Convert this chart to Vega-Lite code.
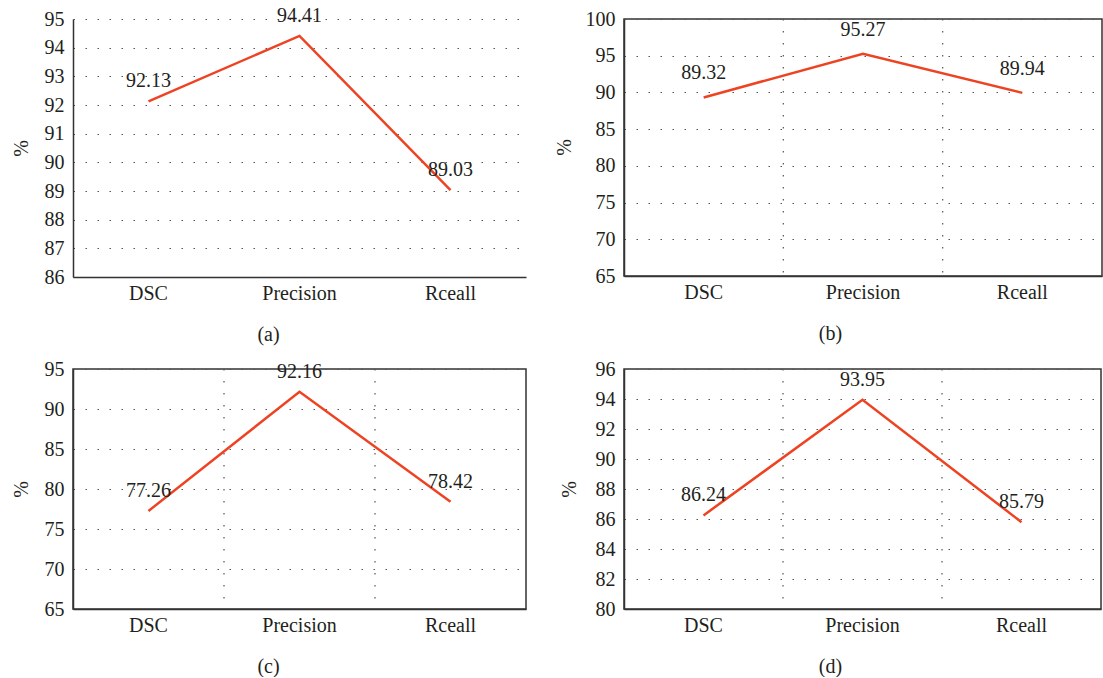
{
  "$schema": "https://vega.github.io/schema/vega-lite/v6.json",
  "padding": {"left": 10, "top": 5, "right": 0, "bottom": 0},
  "background": "white",
  "columns": 2,
  "bounds": "flush",
  "spacing": {"row": 92, "column": 98},
  "datasets": {
    "a": [{"m": "DSC", "v": 92.13}, {"m": "Precision", "v": 94.41}, {"m": "Rceall", "v": 89.03}],
    "b": [{"m": "DSC", "v": 89.32}, {"m": "Precision", "v": 95.27}, {"m": "Rceall", "v": 89.94}],
    "c": [{"m": "DSC", "v": 77.26}, {"m": "Precision", "v": 92.16}, {"m": "Rceall", "v": 78.42}],
    "d": [{"m": "DSC", "v": 86.24}, {"m": "Precision", "v": 93.95}, {"m": "Rceall", "v": 85.79}],
    "vgrid": [{"m": "DSC"}, {"m": "Precision"}]
  },
  "concat": [
    {
      "width": 453, "height": 258,
      "view": {"stroke": null},
      "data": {"name": "a"},
      "encoding": {
        "x": {"field": "m", "type": "nominal", "sort": null,
              "scale": {"type": "band", "domain": ["DSC", "Precision", "Rceall"], "paddingInner": 0, "paddingOuter": 0},
              "axis": {"title": "(a)", "titleX": 195, "titleY": 57, "titleBaseline": "middle", "titleAnchor": "middle", "titleAlign": "center"}},
        "y": {"field": "v", "type": "quantitative",
              "scale": {"domain": [86, 95], "nice": false, "zero": false},
              "axis": {"title": "%", "values": [86, 87, 88, 89, 90, 91, 92, 93, 94, 95], "titleX": -52, "titleY": 129, "titleBaseline": "middle"}}
      },
      "layer": [
        {"mark": {"type": "line", "color": "#ee4322", "strokeWidth": 2.5}},
        {"mark": {"type": "text", "dy": -20, "baseline": "middle", "font": "Liberation Serif, Times New Roman, serif", "fontSize": 20, "color": "#231f20"},
         "encoding": {"text": {"field": "v", "type": "quantitative", "format": ".2f"}}}
      ]
    },
    {
      "width": 478, "height": 257,
      "view": {"stroke": "#333333", "strokeWidth": 1.5},
      "encoding": {
        "x": {"field": "m", "type": "nominal", "sort": null,
              "scale": {"type": "band", "domain": ["DSC", "Precision", "Rceall"], "paddingInner": 0, "paddingOuter": 0},
              "axis": {"title": "(b)", "titleX": 206, "titleY": 57, "titleBaseline": "middle", "titleAnchor": "middle", "titleAlign": "center"}},
        "y": {"field": "v", "type": "quantitative",
              "scale": {"domain": [65, 100], "nice": false, "zero": false},
              "axis": {"title": "%", "values": [65, 70, 75, 80, 85, 90, 95, 100], "titleX": -60, "titleY": 128, "titleBaseline": "middle"}}
      },
      "layer": [
        {"data": {"name": "vgrid"}, "mark": {"type": "rule", "color": "#555555", "strokeWidth": 1.2, "strokeDash": [1.5, 10.5]},
         "encoding": {"x": {"field": "m", "type": "nominal", "bandPosition": 1}, "y": null}},
        {"data": {"name": "b"}, "mark": {"type": "line", "color": "#ee4322", "strokeWidth": 2.5}},
        {"data": {"name": "b"}, "mark": {"type": "text", "dy": -24, "baseline": "middle", "font": "Liberation Serif, Times New Roman, serif", "fontSize": 20, "color": "#231f20"},
         "encoding": {"text": {"field": "v", "type": "quantitative", "format": ".2f"}}}
      ]
    },
    {
      "width": 453, "height": 240,
      "view": {"stroke": "#333333", "strokeWidth": 1.5},
      "encoding": {
        "x": {"field": "m", "type": "nominal", "sort": null,
              "scale": {"type": "band", "domain": ["DSC", "Precision", "Rceall"], "paddingInner": 0, "paddingOuter": 0},
              "axis": {"title": "(c)", "titleX": 195, "titleY": 57, "titleBaseline": "middle", "titleAnchor": "middle", "titleAlign": "center"}},
        "y": {"field": "v", "type": "quantitative",
              "scale": {"domain": [65, 95], "nice": false, "zero": false},
              "axis": {"title": "%", "values": [65, 70, 75, 80, 85, 90, 95], "titleX": -52, "titleY": 120, "titleBaseline": "middle"}}
      },
      "layer": [
        {"data": {"name": "vgrid"}, "mark": {"type": "rule", "color": "#555555", "strokeWidth": 1.2, "strokeDash": [1.5, 10.5]},
         "encoding": {"x": {"field": "m", "type": "nominal", "bandPosition": 1}, "y": null}},
        {"data": {"name": "c"}, "mark": {"type": "line", "color": "#ee4322", "strokeWidth": 2.5}},
        {"data": {"name": "c"}, "mark": {"type": "text", "dy": -20, "baseline": "middle", "font": "Liberation Serif, Times New Roman, serif", "fontSize": 20, "color": "#231f20"},
         "encoding": {"text": {"field": "v", "type": "quantitative", "format": ".2f"}}}
      ]
    },
    {
      "width": 477, "height": 240,
      "view": {"stroke": "#333333", "strokeWidth": 1.5},
      "encoding": {
        "x": {"field": "m", "type": "nominal", "sort": null,
              "scale": {"type": "band", "domain": ["DSC", "Precision", "Rceall"], "paddingInner": 0, "paddingOuter": 0},
              "axis": {"title": "(d)", "titleX": 206, "titleY": 57, "titleBaseline": "middle", "titleAnchor": "middle", "titleAlign": "center"}},
        "y": {"field": "v", "type": "quantitative",
              "scale": {"domain": [80, 96], "nice": false, "zero": false},
              "axis": {"title": "%", "values": [80, 82, 84, 86, 88, 90, 92, 94, 96], "titleX": -55, "titleY": 120, "titleBaseline": "middle"}}
      },
      "layer": [
        {"data": {"name": "vgrid"}, "mark": {"type": "rule", "color": "#555555", "strokeWidth": 1.2, "strokeDash": [1.5, 10.5]},
         "encoding": {"x": {"field": "m", "type": "nominal", "bandPosition": 1}, "y": null}},
        {"data": {"name": "d"}, "mark": {"type": "line", "color": "#ee4322", "strokeWidth": 2.5}},
        {"data": {"name": "d"}, "mark": {"type": "text", "dy": -20, "baseline": "middle", "font": "Liberation Serif, Times New Roman, serif", "fontSize": 20, "color": "#231f20"},
         "encoding": {"text": {"field": "v", "type": "quantitative", "format": ".2f"}}}
      ]
    }
  ],
  "config": {
    "font": "Liberation Serif, Times New Roman, serif",
    "axis": {
      "domainColor": "#333333",
      "domainWidth": 1.5,
      "ticks": false,
      "tickSize": 0,
      "labelFont": "Liberation Serif, Times New Roman, serif",
      "labelFontSize": 20,
      "labelColor": "#231f20",
      "titleFont": "Liberation Serif, Times New Roman, serif",
      "titleFontSize": 20,
      "titleFontWeight": "normal",
      "titleColor": "#231f20",
      "gridColor": "#555555",
      "gridWidth": 1.2,
      "gridDash": [1.5, 10.5]
    },
    "axisX": {"labelAngle": 0, "labelPadding": 6, "grid": false},
    "axisY": {"labelPadding": 9, "grid": true}
  }
}
